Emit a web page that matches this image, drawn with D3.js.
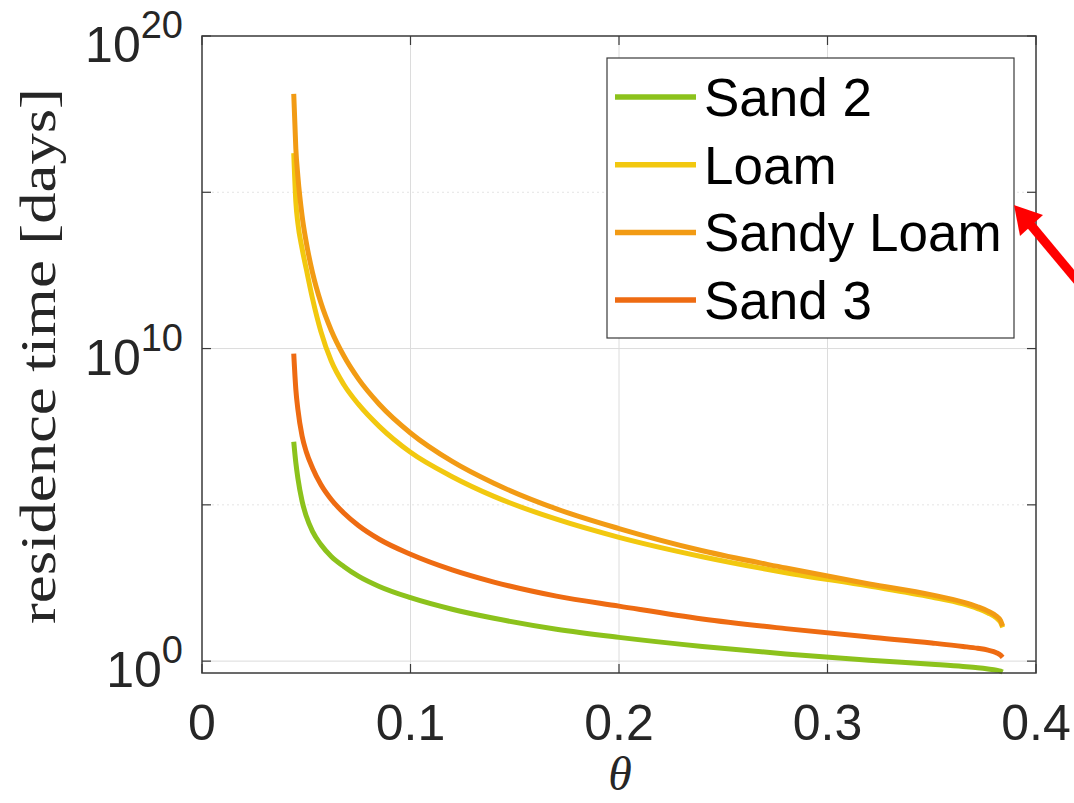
<!DOCTYPE html>
<html>
<head>
<meta charset="utf-8">
<script src="https://cdn.jsdelivr.net/npm/d3@7"></script>
<style>
  body { margin: 0; background: #fff; }
  svg { display: block; }
</style>
</head>
<body>
<svg id="chart" width="1074" height="803"></svg>
<script>
// water content samples (theta), shared by every soil curve
const theta = [0.044, 0.045, 0.046, 0.048, 0.05, 0.053, 0.057, 0.062, 0.068, 0.075, 0.085, 0.1,
               0.12, 0.14, 0.17, 0.2, 0.24, 0.28, 0.32, 0.35, 0.365, 0.372, 0.377, 0.381, 0.383, 0.384];

// log10 of residence time [days]
const sand2Exp     = [7.02, 6.35, 5.85, 5.12, 4.64, 4.15, 3.73, 3.35, 3.03, 2.72, 2.39, 2.03,
                      1.66, 1.37, 1.02, 0.76, 0.47, 0.23, 0.03, -0.10, -0.17, -0.21, -0.25, -0.29, -0.32, -0.35];
const loamExp      = [16.25, 14.7, 14.0, 13.2, 12.55, 11.6, 10.55, 9.6, 8.85, 8.22, 7.51, 6.68,
                      5.9, 5.27, 4.54, 3.96, 3.34, 2.83, 2.4, 2.05, 1.83, 1.68, 1.54, 1.38, 1.24, 1.08];
const sandyLoamExp = [18.15, 16.4, 15.5, 14.25, 13.4, 12.43, 11.47, 10.58, 9.77, 9.03, 8.22, 7.3,
                      6.39, 5.69, 4.87, 4.24, 3.53, 2.98, 2.47, 2.12, 1.89, 1.74, 1.6, 1.44, 1.3, 1.12];
const sand3Exp     = [9.84, 8.7, 8.05, 7.2, 6.7, 6.18, 5.65, 5.17, 4.74, 4.34, 3.9, 3.42,
                      2.92, 2.53, 2.08, 1.76, 1.35, 1.04, 0.77, 0.58, 0.47, 0.41, 0.35, 0.27, 0.19, 0.12];

const seriesNames  = ["Sand 2", "Loam", "Sandy Loam", "Sand 3"];
const seriesColors = ["#8cc21c", "#f2c80f", "#f29b14", "#ee6b12"];
const seriesExps   = [sand2Exp, loamExp, sandyLoamExp, sand3Exp];

const xTicks = [0, 0.1, 0.2, 0.3, 0.4];
const yTickExps = [0, 5, 10, 15, 20];
const yLabelExps = [0, 10, 20];

const svg = d3.select("#chart");
const plotLeft = 202, plotRight = 1036, plotTop = 36, plotBottom = 673;

const x = d3.scaleLinear().domain([0, 0.4]).range([plotLeft, plotRight]);
const y = d3.scaleLog().domain([Math.pow(10, -0.38), 1e20]).range([plotBottom, plotTop]);

// grid
svg.append("g").selectAll("line")
  .data(xTicks.slice(1, -1))
  .join("line")
    .attr("x1", d => x(d)).attr("x2", d => x(d))
    .attr("y1", plotTop).attr("y2", plotBottom)
    .attr("stroke", "#dcdcdc").attr("stroke-width", 1);

svg.append("g").selectAll("line")
  .data(yTickExps.slice(0, -1))
  .join("line")
    .attr("x1", plotLeft).attr("x2", plotRight)
    .attr("y1", d => y(Math.pow(10, d))).attr("y2", d => y(Math.pow(10, d)))
    .attr("stroke", d => d % 10 === 0 ? "#dcdcdc" : "#e4e4e4")
    .attr("stroke-dasharray", d => d % 10 === 0 ? null : "2,3")
    .attr("stroke-width", 1);

// curves
const line = d3.line()
  .x(d => x(d[0]))
  .y(d => y(Math.pow(10, d[1])))
  .curve(d3.curveMonotoneX);

svg.append("g").selectAll("path")
  .data(seriesExps)
  .join("path")
    .attr("d", (s) => line(theta.map((t, i) => [t, s[i]])))
    .attr("fill", "none")
    .attr("stroke", (s, i) => seriesColors[i])
    .attr("stroke-width", 5);

// axes box
svg.append("rect")
  .attr("x", plotLeft).attr("y", plotTop)
  .attr("width", plotRight - plotLeft).attr("height", plotBottom - plotTop)
  .attr("fill", "none").attr("stroke", "#3a3a3a").attr("stroke-width", 1.5);

const tickLen = 9;
const ticks = svg.append("g").attr("stroke", "#3a3a3a").attr("stroke-width", 1.2);
xTicks.forEach(t => {
  ticks.append("line").attr("x1", x(t)).attr("x2", x(t)).attr("y1", plotBottom).attr("y2", plotBottom - tickLen);
  ticks.append("line").attr("x1", x(t)).attr("x2", x(t)).attr("y1", plotTop).attr("y2", plotTop + tickLen);
});
yTickExps.forEach(e => {
  const yy = y(Math.pow(10, e));
  ticks.append("line").attr("x1", plotLeft).attr("x2", plotLeft + tickLen).attr("y1", yy).attr("y2", yy);
  ticks.append("line").attr("x1", plotRight).attr("x2", plotRight - tickLen).attr("y1", yy).attr("y2", yy);
});

// tick labels
svg.append("g").selectAll("text")
  .data(xTicks)
  .join("text")
    .attr("x", d => x(d)).attr("y", 740)
    .attr("text-anchor", "middle")
    .attr("font-family", "Liberation Sans, Arial, sans-serif")
    .attr("font-size", 50).attr("fill", "#262626")
    .text(d => d === 0 ? "0" : d3.format(".1f")(d));

const yLab = svg.append("g").selectAll("text")
  .data(yLabelExps)
  .join("text")
    .attr("x", 183).attr("y", d => y(Math.pow(10, d)) + 26)
    .attr("text-anchor", "end")
    .attr("font-family", "Liberation Sans, Arial, sans-serif")
    .attr("font-size", 50).attr("fill", "#262626");
yLab.append("tspan").text("10");
yLab.append("tspan").attr("dy", -24).attr("font-size", 38).text(d => d);

// axis titles
svg.append("text")
  .attr("transform", "translate(55,356) rotate(-90)")
  .attr("text-anchor", "middle")
  .attr("font-family", "Liberation Serif, Times New Roman, serif")
  .attr("font-size", 50)
  .attr("textLength", 536).attr("lengthAdjust", "spacingAndGlyphs")
  .attr("fill", "#262626")
  .text("residence time [days]");

svg.append("text")
  .attr("x", 620).attr("y", 790)
  .attr("text-anchor", "middle")
  .attr("font-family", "Liberation Serif, Times New Roman, serif")
  .attr("font-style", "italic")
  .attr("font-size", 48).attr("fill", "#262626")
  .text("θ");

// legend
const legend = svg.append("g");
legend.append("rect")
  .attr("x", 607).attr("y", 58).attr("width", 407).attr("height", 280)
  .attr("fill", "#fff").attr("stroke", "#3a3a3a").attr("stroke-width", 1.2);
const rows = legend.selectAll("g.row")
  .data(seriesNames)
  .join("g").attr("class", "row")
    .attr("transform", (d, i) => `translate(0, ${97 + i * 67.7})`);
rows.append("line")
  .attr("x1", 615).attr("x2", 696)
  .attr("stroke", (d, i) => seriesColors[i]).attr("stroke-width", 5.5);
rows.append("text")
  .attr("x", 704).attr("y", 19)
  .attr("font-family", "Liberation Sans, Arial, sans-serif")
  .attr("font-size", 53).attr("fill", "#000")
  .text(d => d);

// red annotation arrow
const arrow = svg.append("g").attr("fill", "#f00").attr("stroke", "none");
arrow.append("path").attr("d", "M1014,205 L1020,236 L1043,215 Z");
arrow.append("line")
  .attr("x1", 1030).attr("y1", 224).attr("x2", 1080).attr("y2", 284)
  .attr("stroke", "#f00").attr("stroke-width", 9);
</script>
</body>
</html>
